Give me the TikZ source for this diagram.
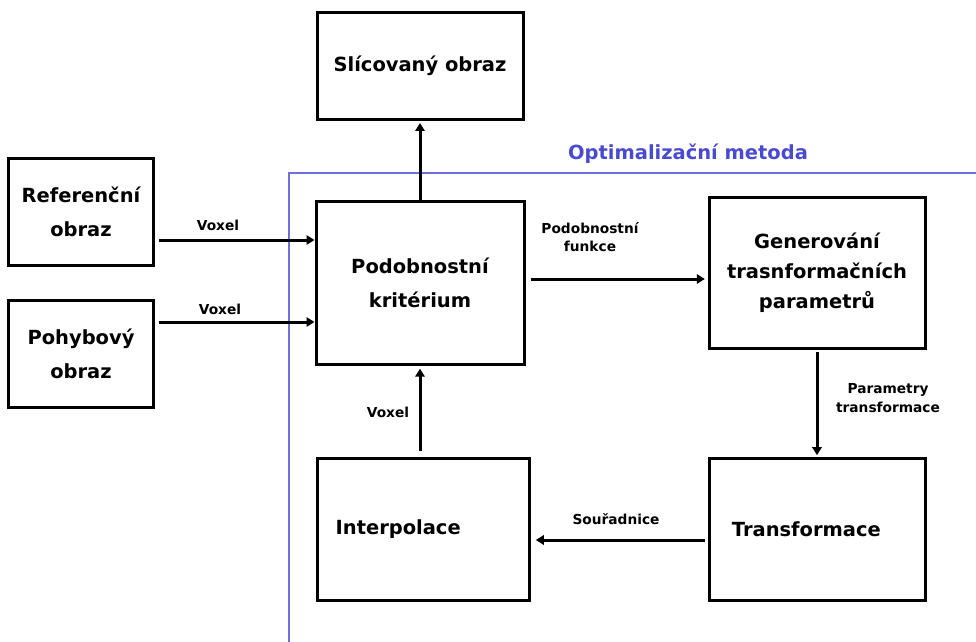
\documentclass[tikz,border=0pt]{standalone}
\usepackage{fontspec}
\setmainfont{DejaVu Sans}
\usetikzlibrary{arrows.meta}
\definecolor{optblue}{HTML}{4A4AD0}
\definecolor{optline}{HTML}{7070D8}
\tikzset{
  blk/.style={draw=black, line width=2.25pt, fill=white, align=center,
    font=\bfseries\fontsize{14.6}{26}\selectfont, inner sep=0pt},
  tight/.style={font=\bfseries\fontsize{14.6}{22.5}\selectfont},
  flow/.style={line width=2.25pt, -{Triangle[length=6pt,width=7pt]}},
  lbl/.style={font=\bfseries\fontsize{10.3}{14}\selectfont, align=center, inner sep=0pt},
}
\begin{document}
\begin{tikzpicture}[x=0.75pt,y=-0.75pt]
\useasboundingbox (0,0) rectangle (976,642);
% frame of the optimisation loop
\draw[optline, line width=0.8pt] (289,642) -- (289,173) -- (976,173);
\node[font=\bfseries\fontsize{14.6}{16}\selectfont, text=optblue, anchor=base] (opt) at (688,160) {Optimalizační metoda};

% blocks
\node[blk, minimum width=206*0.75pt, minimum height=107*0.75pt] (sli) at (420,66) {Slícovaný obraz};
\node[blk, minimum width=145*0.75pt, minimum height=107*0.75pt] (ref) at (81,212) {Referenční\\obraz};
\node[blk, minimum width=145*0.75pt, minimum height=107*0.75pt] (poh) at (81,354) {Pohybový\\obraz};
\node[blk, minimum width=208*0.75pt, minimum height=163*0.75pt] (kri) at (420,283) {Podobnostní\\kritérium};
\node[blk, tight, minimum width=216*0.75pt, minimum height=150*0.75pt] (gen) at (817,273) {Generování\\trasnformačních\\parametrů};
\node[blk, minimum width=212*0.75pt, minimum height=142*0.75pt, text width=196*0.75pt, align=left] (int) at (423,529) {\hspace*{8pt}Interpolace};
\node[blk, minimum width=216*0.75pt, minimum height=142*0.75pt] (tra) at (817,529) {Transformace\hspace*{16pt}};

% connectors
\draw[flow] ([xshift=3pt]ref.east |- 0,240) -- (kri.west |- 0,240);
\draw[flow] ([xshift=3pt]poh.east |- 0,322) -- (kri.west |- 0,322);
\draw[flow] (kri.north) -- ([yshift=-1.5pt]sli.south);
\draw[flow] ([xshift=4pt]kri.east |- 0,279) -- ([xshift=-2pt]gen.west |- 0,279);
\draw[flow] ([yshift=-2pt]gen.south) -- ([yshift=1pt]tra.north);
\draw[flow] ([xshift=-2pt]tra.west |- 0,540) -- ([xshift=4pt]int.east |- 0,540);
\draw[flow] ([yshift=4.5pt]kri.south |- int.north) -- ([yshift=-2pt]kri.south);

% connector labels
\node[lbl] (v1) at (218,225) {Voxel};
\node[lbl] (v2) at (220,309) {Voxel};
\node[lbl] (pf) at (590,237) {Podobnostní\\funkce};
\node[lbl] (pt) at (888,398) {Parametry\\transformace};
\node[lbl] (so) at (616,519) {Souřadnice};
\node[lbl] (v3) at (388,412) {Voxel};
\end{tikzpicture}
\end{document}
